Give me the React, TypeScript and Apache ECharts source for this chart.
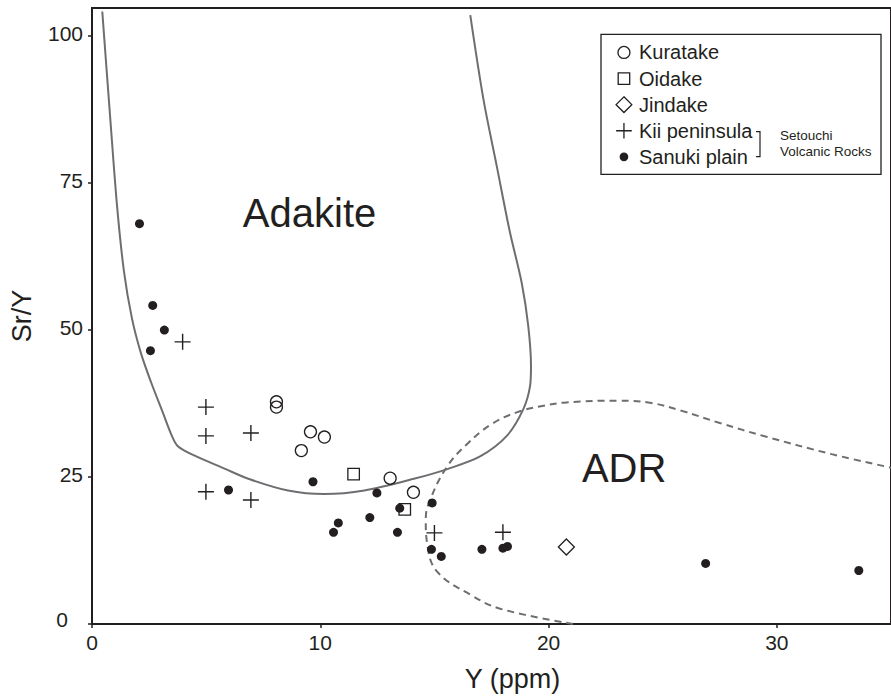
import React, { useEffect, useRef } from 'react';
import * as echarts from 'echarts';

const xTicks = [0, 10, 20, 30];
const yTicks = [0, 25, 50, 75, 100];

const kuratake = [[8.08, 37.8], [8.08, 36.9], [9.57, 32.7], [10.18, 31.8], [9.17, 29.5], [13.06, 24.8], [14.08, 22.4]];
const oidake = [[11.46, 25.5], [13.7, 19.5]];
const jindake = [[20.78, 13.1]];
const kiiPeninsula = [[3.97, 48.0], [4.99, 36.9], [4.99, 32.0], [6.96, 32.5], [4.99, 22.5], [6.96, 21.1], [15.0, 15.5], [18.0, 15.6]];
const sanukiPlain = [
  [2.08, 68.1], [2.66, 54.2], [3.17, 50.0], [2.56, 46.5], [5.98, 22.8], [9.68, 24.2], [12.48, 22.3],
  [14.9, 20.6], [13.48, 19.7], [12.17, 18.1], [10.79, 17.2], [10.58, 15.6], [13.38, 15.6], [14.87, 12.7],
  [15.3, 11.5], [17.08, 12.7], [18.0, 12.9], [18.2, 13.2], [26.88, 10.3], [33.59, 9.1],
];

const adakiteBoundary = [
  [0.45, 104.2], [0.8, 86], [1.1, 71], [1.4, 60], [1.75, 52], [2.15, 46], [2.6, 41], [3.1, 36],
  [3.5, 32], [3.75, 30.3], [4.4, 28.8], [5.83, 26.4], [6.85, 24.7], [8.59, 22.7], [10.18, 22.1],
  [11.93, 22.7], [14.1, 24.7], [15.6, 26.4], [17.0, 28.5], [18.17, 32.0], [18.9, 36.6], [19.19, 40.5],
  [19.23, 43.9], [19.11, 50.7], [18.82, 58.1], [18.31, 66.6], [17.73, 77.9], [17.15, 89.2], [16.57, 103.6],
];

const adrBoundary = [
  [21.07, 0], [17.88, 2.6], [16.57, 5.0], [15.12, 8.9], [14.69, 13.4], [14.62, 17.9], [14.83, 21.3],
  [15.56, 26.8], [16.4, 30.5], [17.5, 34.0], [18.6, 36.0], [19.6, 37.0], [20.78, 37.7], [23.1, 38.0],
  [24.5, 37.6], [25.8, 36.3], [27.5, 34.2], [29.5, 31.9], [32.4, 28.9], [35, 26.6],
];

const fieldLabels = [[9.53, 70.0, 'Adakite'], [23.31, 26.5, 'ADR']];

const legendNames = ['Kuratake', 'Oidake', 'Jindake', 'Kii peninsula', 'Sanuki plain'];
const groupNote = ['Setouchi', 'Volcanic Rocks'];

const FONT = '"Liberation Sans", Arial, Helvetica, sans-serif';
const INK = '#231f20';
const CURVE = '#6d6e71';
const PLUS = 'path://M0,8L16,8M8,0L8,16';

const legendIcons = [
  'path://M0,0M20,20M16,10A6,6,0,1,1,4,10A6,6,0,1,1,16,10Z',
  'path://M0,0M20,20M4.25,4.25L15.75,4.25L15.75,15.75L4.25,15.75Z',
  'path://M0,0M20,20M10,2.15L17.85,10L10,17.85L2.15,10Z',
  'path://M0,0M20,20M2.15,10L17.85,10M10,2.15L10,17.85',
  'path://M0,0M20,20M13.7,10A3.7,3.7,0,1,1,6.3,10A3.7,3.7,0,1,1,13.7,10Z',
];

export default function App() {
  const ref = useRef<HTMLDivElement>(null);

  useEffect(() => {
    if (!ref.current) return;
    const chart = echarts.init(ref.current, null, { renderer: 'svg' });

    const openStyle = { color: 'transparent', borderColor: INK, borderWidth: 1.3, opacity: 1 };

    const option: any = {
      animation: false,
      textStyle: { fontFamily: FONT, color: INK },
      grid: {
        left: 89.5, top: 8, width: 803.6, height: 617.5,
        show: true, borderColor: INK, borderWidth: 2, backgroundColor: 'transparent',
      },
      xAxis: {
        type: 'value', min: 0, max: 35, interval: 10,
        name: 'Y (ppm)', nameLocation: 'middle', nameGap: 41,
        nameTextStyle: { fontSize: 27, color: INK, fontFamily: FONT, padding: [0, 0, 0, 42] },
        axisLine: { show: true, onZero: false, lineStyle: { color: INK, width: 2 } },
        axisTick: { show: true, length: 4, customValues: xTicks, lineStyle: { color: INK, width: 1.5 } },
        axisLabel: { customValues: xTicks, fontSize: 21, color: INK, margin: 8, fontFamily: FONT },
        splitLine: { show: false },
      },
      yAxis: {
        type: 'value', min: 0, max: 104.8, interval: 25,
        name: 'Sr/Y', nameLocation: 'middle', nameGap: 57, nameRotate: 90,
        nameTextStyle: { fontSize: 27, color: INK, fontFamily: FONT },
        axisLine: { show: true, onZero: false, lineStyle: { color: INK, width: 2 } },
        axisTick: { show: true, length: 4, customValues: yTicks, lineStyle: { color: INK, width: 1.5 } },
        axisLabel: {
          customValues: yTicks, fontSize: 21, color: INK, margin: 9, fontFamily: FONT,
          padding: [0, 0, 5, 0],
          formatter: (v: number) => (v === 0 ? '{z|0}' : String(v)),
          rich: { z: { fontSize: 21, color: INK, fontFamily: FONT, padding: [0, 15, 4, 0] } },
        },
        splitLine: { show: false },
      },
      legend: {
        orient: 'vertical', left: 613.3, top: 41.8, padding: 0,
        itemWidth: 20, itemHeight: 20, itemGap: 4.8,
        symbolKeepAspect: true, selectedMode: false,
        textStyle: { fontSize: 20, color: INK, fontFamily: FONT },
        itemStyle: { borderWidth: 1.3 },
        data: legendNames.map((name, i) => ({ name, icon: legendIcons[i] })),
      },
      graphic: [
        {
          type: 'rect', silent: true, z: 100,
          shape: { x: 601, y: 34.3, width: 280, height: 140 },
          style: { fill: 'none', stroke: INK, lineWidth: 1.3 },
        },
        {
          type: 'polyline', silent: true, z: 100,
          shape: { points: [[756, 131.7], [760, 131.7], [760, 156.7], [756, 156.7]] },
          style: { fill: 'none', stroke: INK, lineWidth: 1.2 },
        },
        {
          type: 'text', silent: true, z: 100, x: 780, y: 135,
          style: { text: groupNote[0], fontSize: 13.5, fontFamily: FONT, fill: INK, verticalAlign: 'middle' },
        },
        {
          type: 'text', silent: true, z: 100, x: 780, y: 151,
          style: { text: groupNote[1], fontSize: 13.5, fontFamily: FONT, fill: INK, verticalAlign: 'middle' },
        },
      ],
      series: [
        {
          name: 'Adakite field', type: 'line', data: adakiteBoundary, symbol: 'none', showSymbol: false,
          smooth: 0.3, silent: true, z: 1, lineStyle: { color: CURVE, width: 2 },
        },
        {
          name: 'ADR field', type: 'line', data: adrBoundary, symbol: 'none', showSymbol: false,
          smooth: 0.4, silent: true, z: 1, lineStyle: { color: CURVE, width: 2, type: [7, 5] },
        },
        {
          name: 'field labels', type: 'scatter', data: fieldLabels, symbolSize: 1, silent: true, z: 2,
          itemStyle: { color: 'transparent', opacity: 1 },
          label: {
            show: true, position: 'inside', fontSize: 40, color: INK, fontFamily: FONT, opacity: 1,
            formatter: (p: any) => p.value[2],
          },
        },
        { name: legendNames[0], type: 'scatter', data: kuratake, symbol: 'circle', symbolSize: 12, z: 3, itemStyle: openStyle },
        { name: legendNames[1], type: 'scatter', data: oidake, symbol: 'rect', symbolSize: 11.5, z: 3, itemStyle: openStyle },
        { name: legendNames[2], type: 'scatter', data: jindake, symbol: 'diamond', symbolSize: 16, z: 3, itemStyle: openStyle },
        {
          name: legendNames[3], type: 'scatter', data: kiiPeninsula, symbol: PLUS, symbolSize: 16, z: 3,
          itemStyle: { color: 'transparent', borderColor: INK, borderWidth: 1.4, opacity: 1 },
        },
        {
          name: legendNames[4], type: 'scatter', data: sanukiPlain, symbol: 'circle', symbolSize: 9, z: 4,
          itemStyle: { color: INK, borderColor: INK, borderWidth: 0, opacity: 1 },
        },
      ],
    };

    chart.setOption(option);
    return () => chart.dispose();
  }, []);

  return (
    <div
      ref={ref}
      style={{ position: 'fixed', left: 0, top: 0, width: 891, height: 697, background: '#fff' }}
    />
  );
}
